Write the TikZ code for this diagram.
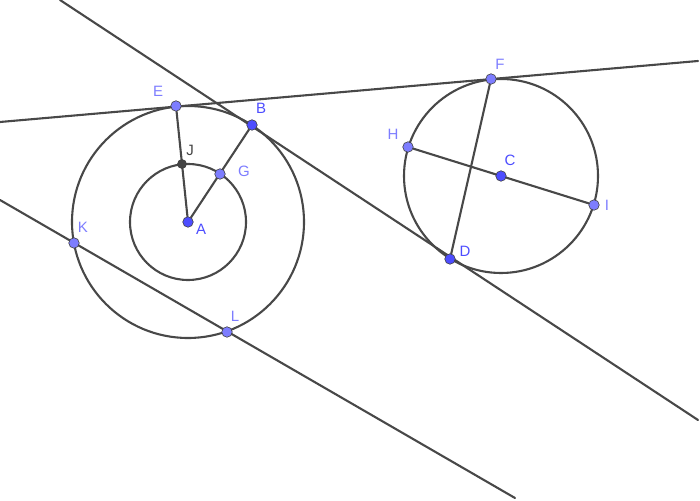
\documentclass[tikz,border=0pt]{standalone}
\usepackage{fontspec}
\setmainfont{Liberation Sans}
\usepackage[usenames]{xcolor}
\usetikzlibrary{backgrounds}
\definecolor{lineColor}{RGB}{72,72,72}
\definecolor{freeColor}{RGB}{77,77,255}
\definecolor{depColor}{RGB}{125,125,255}
\definecolor{intColor}{RGB}{68,68,68}
\tikzset{
  geo/.style={draw=lineColor,line width=2.1pt,line join=round,line cap=round},
  pt/.style={circle,draw=black!75,line width=0.6pt,inner sep=0pt,minimum size=10.5pt},
  ptfree/.style={pt,fill=freeColor},
  ptdep/.style={pt,fill=depColor},
  ptint/.style={pt,fill=intColor,minimum size=9pt},
  lbl/.style={inner sep=0pt,outer sep=0pt,font=\fontsize{15}{17}\selectfont},
  lblfree/.style={lbl,text=freeColor},
  lbldep/.style={lbl,text=depColor},
  lblint/.style={lbl,text=intColor}
}
\begin{document}
\begin{tikzpicture}[x=1pt,y=1pt]
\path[use as bounding box] (0,0) rectangle (700,500);

\coordinate (tanEndA) at (60,500);
\coordinate (tanEndB) at (698,80);
\coordinate (topEndA) at (0,378);
\coordinate (topEndB) at (698,439);
\coordinate (lowEndA) at (0,300);
\coordinate (lowEndB) at (515,2);

\node[ptfree] (A) at (188,278) {};
\node[ptfree] (B) at (252,375) {};
\node[ptfree] (C) at (501,324) {};
\node[ptfree] (D) at (450,241) {};
\node[ptdep] (E) at (176,394) {};
\node[ptdep] (F) at (491,421) {};
\node[ptdep] (G) at (220,326) {};
\node[ptdep] (H) at (408,353) {};
\node[ptdep] (I) at (594,295) {};
\node[ptint] (J) at (182,336) {};
\node[ptdep] (K) at (74,257) {};
\node[ptdep] (L) at (227,168) {};

\begin{scope}[on background layer]
\path[clip] (0,0) rectangle (700,500);
\draw[geo] (A.center) circle[radius=58pt];
\draw[geo] (A.center) circle[radius=116pt];
\draw[geo] (C.center) circle[radius=97pt];
\draw[geo] (tanEndA) -- (tanEndB);
\draw[geo] (topEndA) -- (topEndB);
\draw[geo] (lowEndA) -- (lowEndB);
\draw[geo] (A) -- (B);
\draw[geo] (A) -- (E);
\draw[geo] (D) -- (F);
\draw[geo] (H) -- (I);
\end{scope}

\node[lbldep] (lblE) at (158,409) {E};
\node[lblfree] (lblB) at (261,392) {B};
\node[lblint] (lblJ) at (190,350) {J};
\node[lbldep] (lblG) at (244,329) {G};
\node[lblfree] (lblA) at (201,271) {A};
\node[lbldep] (lblK) at (83,273) {K};
\node[lbldep] (lblL) at (235,184) {L};
\node[lbldep] (lblF) at (500,436) {F};
\node[lbldep] (lblH) at (393,366) {H};
\node[lblfree] (lblC) at (510,340) {C};
\node[lblfree] (lblD) at (465,249) {D};
\node[lbldep] (lblI) at (607,295) {I};
\end{tikzpicture}
\end{document}
